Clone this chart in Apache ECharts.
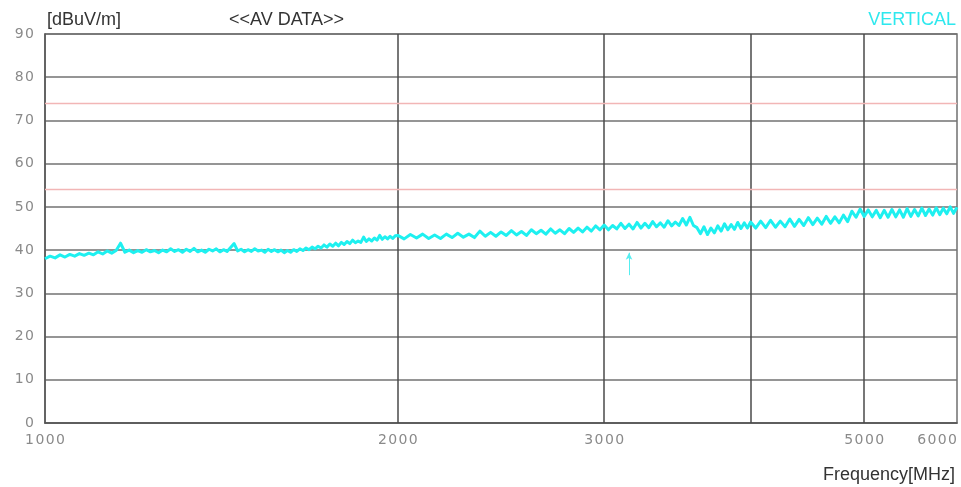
<!DOCTYPE html>
<html>
<head>
<meta charset="utf-8">
<style>
  html, body { margin: 0; padding: 0; background: #fff; }
  #chart { width: 961px; height: 487px; }
</style>
<script src="https://cdn.jsdelivr.net/npm/echarts@6/dist/echarts.min.js"></script>
</head>
<body>
<div id="chart"></div>
<script>
// Sweep frequencies (MHz)
const freqMHz = [
  1000, 1010, 1020, 1030, 1040, 1050, 1060, 1070, 1080, 1090,
  1100, 1110, 1120, 1130, 1140, 1150, 1160, 1170, 1180, 1190,
  1200, 1210, 1220, 1230, 1240, 1250, 1260, 1270, 1280, 1290,
  1300, 1310, 1320, 1330, 1340, 1350, 1360, 1370, 1380, 1390,
  1400, 1410, 1420, 1430, 1440, 1450, 1460, 1470, 1480, 1490,
  1500, 1510, 1520, 1530, 1540, 1550, 1560, 1570, 1580, 1590,
  1600, 1610, 1620, 1630, 1640, 1650, 1660, 1670, 1680, 1690,
  1700, 1710, 1720, 1730, 1740, 1750, 1760, 1770, 1780, 1790,
  1800, 1810, 1820, 1830, 1840, 1850, 1860, 1870, 1880, 1890,
  1900, 1910, 1920, 1930, 1940, 1950, 1960, 1970, 1980, 1990,
  2000, 2025, 2050, 2075, 2100, 2125, 2150, 2175,
  2200, 2225, 2250, 2275, 2300, 2325, 2350, 2375,
  2400, 2425, 2450, 2475, 2500, 2525, 2550, 2575,
  2600, 2625, 2650, 2675, 2700, 2725, 2750, 2775,
  2800, 2825, 2850, 2875, 2900, 2925, 2950, 2975,
  3000, 3025, 3050, 3075, 3100, 3125, 3150, 3175,
  3200, 3225, 3250, 3275, 3300, 3325, 3350, 3375,
  3400, 3425, 3450, 3475, 3500, 3525, 3550, 3575,
  3600, 3625, 3650, 3675, 3700, 3725, 3750, 3775,
  3800, 3825, 3850, 3875, 3900, 3925, 3950, 3975,
  4000, 4040, 4080, 4120, 4160, 4200, 4240, 4280, 4320, 4360,
  4400, 4440, 4480, 4520, 4560, 4600, 4640, 4680, 4720, 4760,
  4800, 4840, 4880, 4920, 4960, 5000, 5040, 5080, 5120, 5160,
  5200, 5240, 5280, 5320, 5360, 5400, 5440, 5480, 5520, 5560,
  5600, 5640, 5680, 5720, 5760, 5800, 5840, 5880, 5920, 5960,
  6000
];

// Average detector level, vertical polarization (dBuV/m)
const levelAV = [
  38.0, 38.6, 38.2, 38.9, 38.4, 39.0, 38.6, 39.2, 38.8, 39.3,
  38.9, 39.6, 39.1, 39.8, 39.3, 39.9, 41.6, 39.5, 40.0, 39.4,
  39.9, 39.5, 40.1, 39.6, 39.9, 39.4, 40.0, 39.6, 40.3, 39.7,
  40.1, 39.5, 40.2, 39.7, 40.4, 39.6, 40.0, 39.5, 40.2, 39.8,
  40.3, 39.6, 40.1, 39.7, 40.6, 41.5, 39.8, 40.2, 39.6, 40.1,
  39.7, 40.3, 39.8, 40.0, 39.5, 40.2, 39.7, 40.1, 39.6, 40.0,
  39.4, 39.9, 39.5, 40.1, 39.7, 40.3, 39.9, 40.5, 40.1, 40.7,
  40.3, 40.9, 40.5, 41.2, 40.7, 41.4, 40.9, 41.6, 41.0, 41.8,
  41.3, 42.0, 41.5, 42.3, 41.7, 42.1, 41.8, 43.0, 42.0, 42.6,
  42.1, 42.8, 42.3, 43.4, 42.5, 43.1, 42.6, 43.2, 42.7, 43.3,
  43.4, 42.6, 43.6, 42.8, 43.7, 42.7, 43.5, 42.7,
  43.7, 42.9, 43.9, 43.0, 43.7, 42.9, 44.4, 43.2,
  44.1, 43.2, 44.2, 43.4, 44.5, 43.5, 44.3, 43.4,
  44.7, 43.8, 44.6, 43.7, 44.9, 43.9, 44.7, 43.8,
  45.0, 44.1, 45.1, 44.2, 45.3, 44.4, 45.6, 44.7,
  45.8, 44.7, 45.7, 44.9, 46.2, 45.0, 46.0, 44.9,
  46.4, 45.1, 46.2, 45.2, 46.6, 45.4, 46.3, 45.3,
  46.8, 45.6, 46.5, 45.7, 47.3, 45.8, 47.6, 45.7,
  45.2, 43.8, 45.4, 43.6, 45.1, 44.0, 45.6, 44.4,
  46.1, 44.7, 45.9, 44.8, 46.4, 45.0, 46.3, 45.1,
  46.5, 45.1, 46.7, 45.2, 46.9, 45.3, 46.7, 45.4, 47.2, 45.5,
  47.1, 45.7, 47.5, 45.9, 47.4, 46.0, 47.8, 46.2, 47.7, 46.3,
  48.1, 46.6, 49.0, 47.6, 49.5, 47.8, 49.3, 47.7, 49.2, 47.5,
  49.2, 47.6, 49.4, 47.7, 49.3, 47.6, 49.6, 47.8, 49.4, 47.9,
  49.7, 48.0, 49.5, 48.1, 49.8, 48.2, 49.7, 48.4, 50.0, 48.5,
  49.9
];

// Limit lines (dBuV/m)
const limitLines = [74, 54];
// Frequency axis labels and vertical grid lines (MHz)
const freqLabels = [1000, 2000, 3000, 5000, 6000];
const freqGrid = [2000, 3000, 4000, 5000];
// Marker: frequency and level span of the arrow
const markerFreq = 3150;
const markerSpan = [34.2, 39.4];

const spaced = v => String(v).split('').join('\u200A');

const chart = echarts.init(document.getElementById('chart'));
chart.setOption({
  animation: false,
  backgroundColor: '#fff',
  title: [
    { text: '[dBuV/m]', left: 42, top: 6,
      textStyle: { fontFamily: 'Liberation Sans', fontSize: 18, fontWeight: 'normal', color: '#333' } },
    { text: '<<AV DATA>>', left: 224, top: 6,
      textStyle: { fontFamily: 'Liberation Sans', fontSize: 18, fontWeight: 'normal', color: '#333' } },
    { text: 'VERTICAL', right: 0, top: 6,
      textStyle: { fontFamily: 'Liberation Sans', fontSize: 18, fontWeight: 'normal', color: '#2ee8ee' } },
    { text: 'Frequency[MHz]', right: 1, top: 461,
      textStyle: { fontFamily: 'Liberation Sans', fontSize: 18, fontWeight: 'normal', color: '#333' } }
  ],
  grid: { left: 45, right: 4, top: 34, bottom: 64, show: true, borderColor: '#707070', borderWidth: 1.5, containLabel: false },
  xAxis: {
    type: 'log', logBase: 10, min: 1000, max: 6000,
    axisLine: { show: true, lineStyle: { color: '#555', width: 1.5 } },
    axisTick: { show: false },
    splitLine: { show: false },
    minorSplitLine: { show: false },
    axisLabel: {
      customValues: freqLabels,
      formatter: spaced,
      color: '#8a8a8a', fontFamily: 'DejaVu Sans', fontSize: 14, margin: 10,
      alignMaxLabel: 'right'
    }
  },
  yAxis: {
    type: 'value', min: 0, max: 90, interval: 10,
    axisLine: { show: true, lineStyle: { color: '#555', width: 1.5 } },
    axisTick: { show: false },
    splitLine: { show: true, lineStyle: { color: '#727272', width: 1.5 } },
    axisLabel: {
      formatter: spaced,
      color: '#8a8a8a', fontFamily: 'DejaVu Sans', fontSize: 14, margin: 11
    }
  },
  series: [
    {
      // vertical grid lines and limit lines
      type: 'line', data: [], silent: true,
      markLine: {
        silent: true, symbol: 'none', label: { show: false }, animation: false,
        data: freqGrid.map(f => ({ xAxis: f, lineStyle: { color: '#4a4a4a', width: 1.5, type: 'solid' } }))
          .concat(limitLines.map(v => ({ yAxis: v, lineStyle: { color: '#f2b6b6', width: 1.3, type: 'solid' } })))
      }
    },
    {
      type: 'line', name: 'AV',
      data: freqMHz.map((f, i) => [f, levelAV[i]]),
      showSymbol: false, symbol: 'none',
      lineStyle: { color: '#1ef0f0', width: 3, join: 'round' },
      silent: true, z: 5,
      markLine: {
        silent: true, animation: false,
        symbol: ['none', 'arrow'], symbolSize: [5, 7],
        label: { show: false },
        lineStyle: { color: '#55eef0', width: 1, type: 'solid' },
        data: [[{ coord: [markerFreq, markerSpan[0]] }, { coord: [markerFreq, markerSpan[1]] }]]
      }
    }
  ]
});
</script>
</body>
</html>
